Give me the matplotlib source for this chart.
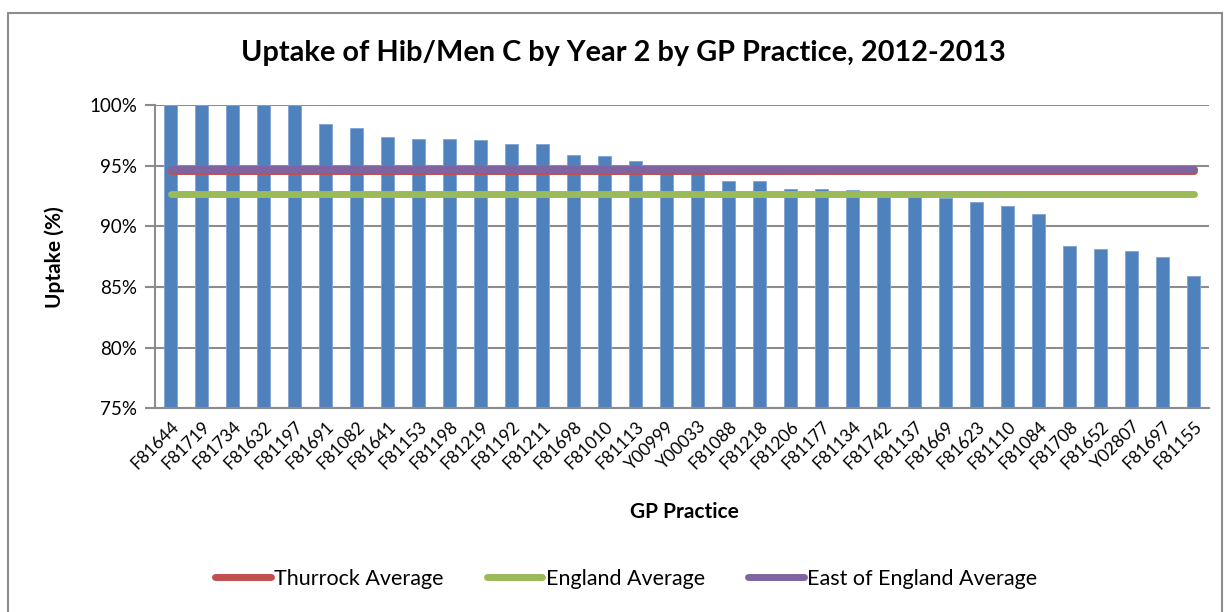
import matplotlib
matplotlib.use("Agg")
import matplotlib.pyplot as plt
from matplotlib.patches import Rectangle
from matplotlib.ticker import FuncFormatter
import numpy as np

plt.rcParams['font.family'] = ['Lato', 'DejaVu Sans']

# dane
praktyki = ["F81644", "F81719", "F81734", "F81632", "F81197", "F81691", "F81082", "F81641",
            "F81153", "F81198", "F81219", "F81192", "F81211", "F81698", "F81010", "F81113",
            "Y00999", "Y00033", "F81088", "F81218", "F81206", "F81177", "F81134", "F81742",
            "F81137", "F81669", "F81623", "F81110", "F81084", "F81708", "F81652", "Y02807",
            "F81697", "F81155"]
uptake = [100, 100, 100, 100, 100, 98.4, 98.1, 97.4,
          97.2, 97.2, 97.1, 96.8, 96.8, 95.85, 95.8, 95.35,
          94.85, 94.8, 93.74, 93.74, 93.1, 93.07, 93.0, 92.85,
          92.75, 92.3, 92.0, 91.67, 91.03, 88.4, 88.1, 88.0,
          87.5, 85.9]
thurrock_avg = 94.6
england_avg = 92.7
east_avg = 94.75

fig = plt.figure(figsize=(12.27, 6.12), dpi=100)
fig.patches.append(Rectangle((8 / 1227, -0.05), 1214 / 1227, 1.05 - 13 / 612,
                             transform=fig.transFigure, fill=False,
                             edgecolor="#8c8c8c", linewidth=1.5))

ax = fig.add_axes([155 / 1227, 1 - 408.3 / 612, 1054 / 1227, 303.3 / 612])

x = np.arange(len(praktyki))
ax.bar(x, uptake, width=0.39, color="#4F81BD", edgecolor="#7FA3D3", linewidth=0.6, zorder=2)

# linie srednich
ax.plot(x, [thurrock_avg] * len(x), color="#C0504D", linewidth=5, solid_capstyle="round",
        zorder=3, label="Thurrock Average")
ax.plot(x, [england_avg] * len(x), color="#9BBB59", linewidth=5, solid_capstyle="round",
        zorder=3, label="England Average")
ax.plot(x, [east_avg] * len(x), color="#8064A2", linewidth=5, solid_capstyle="round",
        zorder=4, label="East of England Average")

ax.set_xlim(-0.5, len(x) - 0.5)
ax.set_ylim(75, 100)
ax.set_yticks(np.arange(75, 101, 5))
ax.yaxis.set_major_formatter(FuncFormatter(lambda v, p: f"{v:.0f}%"))
ax.grid(axis="y", color="#8c8c8c", linewidth=1.5, zorder=0)
ax.set_axisbelow(True)

for s in ["top", "right"]:
    ax.spines[s].set_visible(False)
for s in ["left", "bottom"]:
    ax.spines[s].set_color("#8c8c8c")
    ax.spines[s].set_linewidth(1.5)

ax.set_xticks(x)
ax.set_xticklabels(praktyki, rotation=45, ha="right", rotation_mode="anchor", fontsize=12.5)
ax.tick_params(axis="x", length=0, pad=7)
ax.tick_params(axis="y", length=7, width=1.5, color="#8c8c8c", labelsize=13.5, pad=6)

ax.set_ylabel("Uptake (%)", fontsize=15, fontweight="bold")
ax.yaxis.set_label_coords((65 - 155) / 1054, 0.5)
ax.set_xlabel("GP Practice", fontsize=15, fontweight="bold")
ax.xaxis.set_label_coords((684 - 155) / 1054, -(502 - 408.3) / 303.3)

fig.text(623 / 1227, 1 - 53 / 612, "Uptake of Hib/Men C by Year 2 by GP Practice, 2012-2013",
         fontsize=20.8, fontweight="bold", ha="center", va="center")

fig.legend(loc="center", bbox_to_anchor=(626 / 1227, 1 - 579 / 612), ncol=3, frameon=False,
           fontsize=15.5, handlelength=2.6, handletextpad=0.15, columnspacing=2.0)

fig.savefig("out.png", dpi=100)
